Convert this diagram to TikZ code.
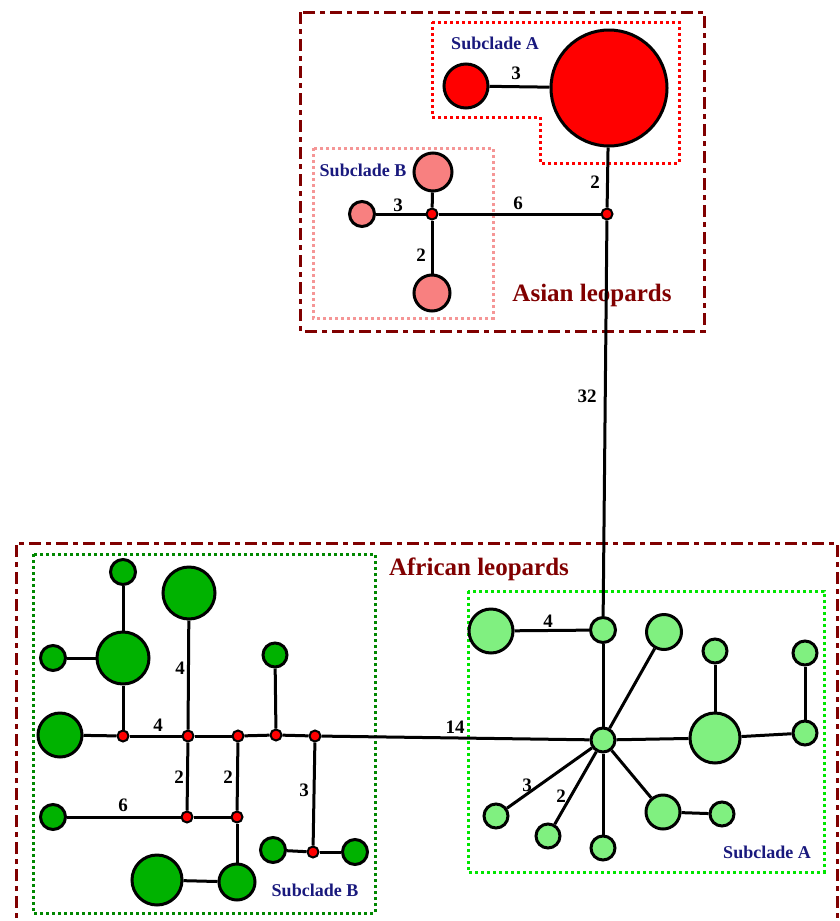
\documentclass[tikz,border=0pt]{standalone}
\usepackage{fontspec}
\setmainfont{Liberation Serif}
\usepackage{tikz}
\definecolor{cladeborder}{RGB}{128,0,0}
\definecolor{cladetext}{RGB}{25,25,125}
\definecolor{asiaA}{RGB}{255,0,0}
\definecolor{asiaB}{RGB}{248,128,128}
\definecolor{asiaBbox}{RGB}{245,150,150}
\definecolor{afrB}{RGB}{0,178,0}
\definecolor{afrBbox}{RGB}{0,135,0}
\definecolor{afrA}{RGB}{128,240,128}
\definecolor{afrAbox}{RGB}{0,230,0}
\tikzset{
  hap/.style={circle, draw, line width=3pt, inner sep=0pt},
  mv/.style={circle, draw, fill=asiaA, line width=2pt, inner sep=0pt, minimum size=11pt},
  link/.style={line width=3pt},
  steps/.style={font=\bfseries\fontsize{19}{19}\selectfont},
  clade/.style={draw=cladeborder, line width=3pt, dash pattern=on 12pt off 5pt on 5pt off 5pt},
  subbox/.style={line width=3pt, dash pattern=on 3pt off 3pt},
  subname/.style={text=cladetext, font=\bfseries\fontsize{18}{18}\selectfont},
  cladename/.style={text=cladeborder, font=\bfseries\fontsize{25}{25}\selectfont}
}

\begin{document}
\begin{tikzpicture}[x=1pt, y=-1pt]
  \useasboundingbox (0,0) rectangle (840,921);

  \draw [clade] (300,12) rectangle (704,331);
  \draw [clade] (16,935) -- (16,543) -- (837,543) -- (837,935);
  \draw [subbox, draw=asiaA]
    (432,22) -- (679,22) -- (679,163) -- (540,163) -- (540,117) -- (432,117) -- cycle;
  \draw [subbox, draw=asiaBbox] (313,148) rectangle (493,318);
  \draw [subbox, draw=afrBbox] (33,554) rectangle (375,913);
  \draw [subbox, draw=afrAbox] (468,591) rectangle (824,872);

  \node [subname] (nameAsiaA) at (495,43) {Subclade A};
  \node [subname] (nameAsiaB) at (363,170) {Subclade B};
  \node [cladename] (nameAsia) at (592,295) {Asian leopards};
  \node [cladename] (nameAfrica) at (479,569) {African leopards};
  \node [subname] (nameAfrB) at (315,890) {Subclade B};
  \node [subname] (nameAfrA) at (767,852) {Subclade A};

  \node [hap, fill=asiaA, minimum size=116pt] (aA1) at (609,88) {};
  \node [hap, fill=asiaA, minimum size=44pt] (aA2) at (466,86) {};
  \foreach \n/\x/\y/\d in {aB1/433/172/38, aB2/362/214/25, aB3/432/293/36}
  {
    \node [hap, fill=asiaB, minimum size=\d pt] (\n) at (\x,\y) {};
  }

  \foreach \n/\x/\y/\d in {fB1/123/572/25, fB2/123/658/52, fB3/53/658/25,
    fB4/60/735/44, fB5/189/593/52, fB6/275/655/24, fB7/53/817/25,
    fB8/237/882/36, fB9/157/880/50, fB10/273/850/25, fB11/355/852/25}
  {
    \node [hap, fill=afrB, minimum size=\d pt] (\n) at (\x,\y) {};
  }

  \foreach \n/\x/\y/\d in {fA0/603/630/25, fA1/491/631/44, fA2/603/740/24,
    fA3/664/632/35, fA4/715/651/24, fA5/715/738/50, fA6/805/653/24,
    fA7/805/733/24, fA8/663/812/34, fA9/722/814/24, fA10/603/848/24,
    fA11/548/836/24, fA12/496/816/24}
  {
    \node [hap, fill=afrA, minimum size=\d pt] (\n) at (\x,\y) {};
  }

  \foreach \n/\x/\y in {mv1/607/214, mv2/432/214, mv3/123/736, mv4/188/736,
    mv5/238/736, mv6/276/735, mv7/315/736, mv8/187/817, mv9/237/817,
    mv10/313/852}
  {
    \node [mv] (\n) at (\x,\y) {};
  }

  \foreach \a/\b in {aA2/aA1, aA1/mv1, mv1/mv2, mv2/aB1, mv2/aB2, mv2/aB3,
    mv1/fA0, fB1/fB2, fB3/fB2, fB2/mv3, fB4/mv3, mv3/mv4, fB5/mv4, mv4/mv5,
    mv5/mv6, fB6/mv6, mv6/mv7, mv7/fA2, mv4/mv8, mv5/mv9, fB7/mv8, mv8/mv9,
    mv9/fB8, fB9/fB8, mv7/mv10, fB10/mv10, mv10/fB11,
    fA1/fA0, fA0/fA2, fA2/fA3, fA2/fA5, fA4/fA5, fA5/fA7, fA6/fA7, fA2/fA8,
    fA8/fA9, fA2/fA10, fA2/fA11, fA2/fA12}
  {
    \draw [link] (\a) -- (\b);
  }

  \foreach \n/\x/\y/\t in {s1/516/73/3, s2/595/182/2, s3/518/203/6,
    s4/398/205/3, s5/421/255/2, s6/587/396/32, s7/180/668/4, s8/158/725/4,
    s9/179/777/2, s10/228/777/2, s11/123/805/6, s12/304/790/3, s13/455/727/14,
    s14/548/621/4, s15/527/785/3, s16/561/796/2}
  {
    \node [steps] (\n) at (\x,\y) {\t};
  }
\end{tikzpicture}
\end{document}
